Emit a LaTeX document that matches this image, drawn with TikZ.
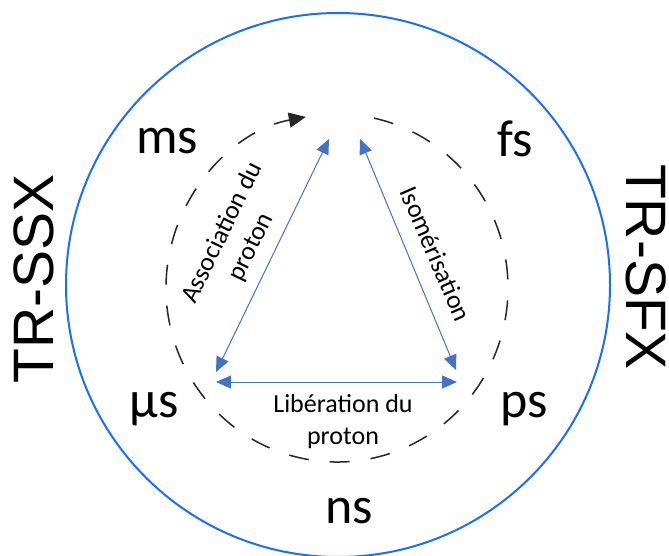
\documentclass[tikz,border=0pt]{standalone}
\usepackage{fontspec}
\setmainfont{Carlito}
\newfontfamily\arialf{Liberation Sans}
\usetikzlibrary{arrows.meta,calc}
\definecolor{ringblue}{RGB}{30,110,240}
\definecolor{arrblue}{RGB}{68,114,196}
\begin{document}
\begin{tikzpicture}[x=1pt,y=-1pt,
  bigtime/.style={font=\fontsize{52}{62}\selectfont, inner sep=0pt, anchor=base},
  smalllab/.style={font=\fontsize{26}{32}\selectfont, inner sep=0pt, align=center},
  techlab/.style={font=\arialf\fontsize{57}{68}\selectfont, inner sep=0pt},
  bluearrow/.style={arrblue, line width=1pt, {Triangle[length=15pt,width=13pt]}-{Triangle[length=15pt,width=13pt]}},
  cycledash/.style={black!85, line width=1.5pt, dash pattern=on 20pt off 21pt, -{Triangle[length=17pt,width=15pt]}}
]
\useasboundingbox (0,0) rectangle (669,556);
\fill[white] (0,0) rectangle (669,556);
% outer ring
\draw[ringblue, line width=2pt] (338,285) circle[radius=272pt];
% dashed time cycle
\draw[cycledash] ($(337,288)+(-77.5:171 and 174)$) arc[start angle=-77.5, end angle=259.5, x radius=171, y radius=174];
% triangle corners
\coordinate (aTop) at (329,139);
\coordinate (aBot) at (216,372);
\coordinate (iTop) at (360,139);
\coordinate (iBot) at (456,370);
\coordinate (lL) at (216,382);
\coordinate (lR) at (457,382);
\draw[bluearrow] (aTop) -- (aBot);
\draw[bluearrow] (iTop) -- (iBot);
\draw[bluearrow] (lL) -- (lR);
% time scale labels
\node[bigtime] (ms) at (167,154) {ms};
\node[bigtime] (fs) at (515,157) {fs};
\node[bigtime] (us) at (154,417) {µs};
\node[bigtime] (ps) at (524,417) {ps};
\node[bigtime] (ns) at (349,523) {ns};
% process labels
\node[smalllab, rotate=64] (assoc) at (237,240) {Association du\\proton};
\node[smalllab, rotate=-66.6] (isom) at (436,254) {Isomérisation};
\node[smalllab] (lib) at (343,422) {Libération du\\proton};
% technique labels
\node[techlab, rotate=90] (ssx) at (34,279) {TR-SSX};
\node[techlab, rotate=-90] (sfx) at (646,267) {TR-SFX};
\end{tikzpicture}
\end{document}
